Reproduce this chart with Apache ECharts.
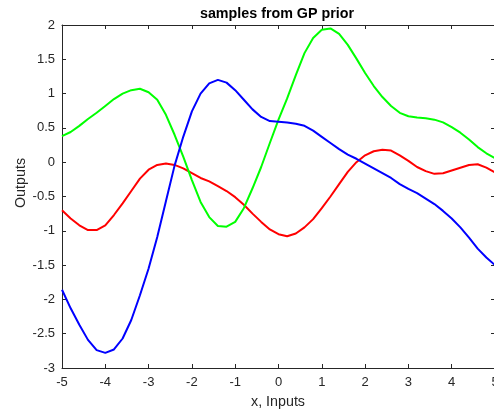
<!DOCTYPE html>
<html>
<head>
<meta charset="utf-8">
<script src="https://cdn.jsdelivr.net/npm/echarts@6/dist/echarts.min.js"></script>
<style>
html,body{margin:0;padding:0;background:#fff;}
#chart{width:494px;height:413px;}
</style>
</head>
<body>
<div id="chart"></div>
<script>
var xs = [-5.0,-4.8,-4.6,-4.4,-4.2,-4.0,-3.8,-3.6,-3.4,-3.2,-3.0,-2.8,-2.6,-2.4,-2.2,-2.0,-1.8,-1.6,-1.4,-1.2,-1.0,-0.8,-0.6,-0.4,-0.2,0.0,0.2,0.4,0.6,0.8,1.0,1.2,1.4,1.6,1.8,2.0,2.2,2.4,2.6,2.8,3.0,3.2,3.4,3.6,3.8,4.0,4.2,4.4,4.6,4.8,5.0];
var blueSample = [-1.86,-2.13,-2.37,-2.59,-2.74,-2.78,-2.73,-2.57,-2.30,-1.94,-1.55,-1.09,-0.57,-0.05,0.37,0.74,1.00,1.15,1.20,1.16,1.05,0.91,0.77,0.66,0.60,0.59,0.58,0.56,0.53,0.46,0.37,0.28,0.19,0.11,0.05,-0.02,-0.09,-0.16,-0.23,-0.32,-0.39,-0.45,-0.53,-0.61,-0.71,-0.82,-0.95,-1.10,-1.26,-1.39,-1.50];
var redSample = [-0.70,-0.82,-0.92,-0.99,-0.99,-0.92,-0.77,-0.60,-0.42,-0.24,-0.11,-0.04,-0.02,-0.04,-0.09,-0.16,-0.23,-0.28,-0.35,-0.42,-0.51,-0.62,-0.75,-0.87,-0.98,-1.05,-1.08,-1.04,-0.95,-0.83,-0.67,-0.50,-0.32,-0.14,0.00,0.10,0.16,0.18,0.17,0.10,0.02,-0.07,-0.13,-0.17,-0.16,-0.12,-0.08,-0.04,-0.03,-0.08,-0.15];
var greenSample = [0.38,0.44,0.53,0.63,0.72,0.82,0.92,1.00,1.05,1.07,1.02,0.91,0.69,0.40,0.08,-0.26,-0.58,-0.80,-0.93,-0.94,-0.87,-0.67,-0.38,-0.07,0.28,0.62,0.93,1.27,1.59,1.81,1.93,1.95,1.87,1.71,1.51,1.30,1.11,0.95,0.82,0.72,0.67,0.65,0.64,0.62,0.58,0.51,0.43,0.33,0.22,0.13,0.06];

var titleText = 'samples from GP prior';
var xLabelText = 'x, Inputs';
var yLabelText = 'Outputs';

var FONT = '"Liberation Sans", Arial, Helvetica, sans-serif';
var AX = '#262626';

function pairs(ys){ return xs.map(function(x,i){ return [x, ys[i]]; }); }

var axisCommon = {
  type: 'value',
  axisLine: {show: true, onZero: false, lineStyle: {color: AX, width: 1}},
  axisTick: {show: true, inside: true, length: 4, lineStyle: {color: AX, width: 1}},
  splitLine: {show: false}
};
function mk(extra){ return Object.assign({}, JSON.parse(JSON.stringify(axisCommon)), extra); }

var chart = echarts.init(document.getElementById('chart'), null, {renderer: 'canvas'});
chart.setOption({
  animation: false,
  backgroundColor: '#fff',
  grid: {left: 62, right: -1, top: 25, bottom: 45, containLabel: false, outerBoundsMode: 'none'},
  xAxis: [
    mk({min: -5, max: 5, interval: 1, position: 'bottom',
        axisLabel: {show: true, margin: 8, fontSize: 13, color: AX, fontFamily: FONT}}),
    mk({min: -5, max: 5, interval: 1, position: 'top', axisLabel: {show: false}})
  ],
  yAxis: [
    mk({min: -3, max: 2, interval: 0.5, position: 'left',
        axisLabel: {show: true, margin: 7, fontSize: 13, color: AX, fontFamily: FONT}}),
    mk({min: -3, max: 2, interval: 0.5, position: 'right', axisLabel: {show: false}})
  ],
  series: [
    {type: 'line', data: pairs(redSample), showSymbol: false, symbol: 'none', lineStyle: {color: '#ff0000', width: 2}, itemStyle:{color:'#ff0000'}, z: 3},
    {type: 'line', data: pairs(greenSample), showSymbol: false, symbol: 'none', lineStyle: {color: '#00ff00', width: 2}, itemStyle:{color:'#00ff00'}, z: 3},
    {type: 'line', data: pairs(blueSample), showSymbol: false, symbol: 'none', lineStyle: {color: '#0000ff', width: 2}, itemStyle:{color:'#0000ff'}, z: 3}
  ],
  graphic: [
    {type: 'text', x: 277, y: 14, style: {text: titleText, font: 'bold 14.3px ' + FONT, fill: '#000', textAlign: 'center', textVerticalAlign: 'middle', align: 'center', verticalAlign: 'middle'}},
    {type: 'text', x: 278, y: 402, style: {text: xLabelText, font: '14.3px ' + FONT, fill: AX, textAlign: 'center', textVerticalAlign: 'middle', align: 'center', verticalAlign: 'middle'}},
    {type: 'text', x: 21, y: 183, rotation: Math.PI / 2, style: {text: yLabelText, font: '14.3px ' + FONT, fill: AX, textAlign: 'center', textVerticalAlign: 'middle', align: 'center', verticalAlign: 'middle'}}
  ]
});
</script>
</body>
</html>
